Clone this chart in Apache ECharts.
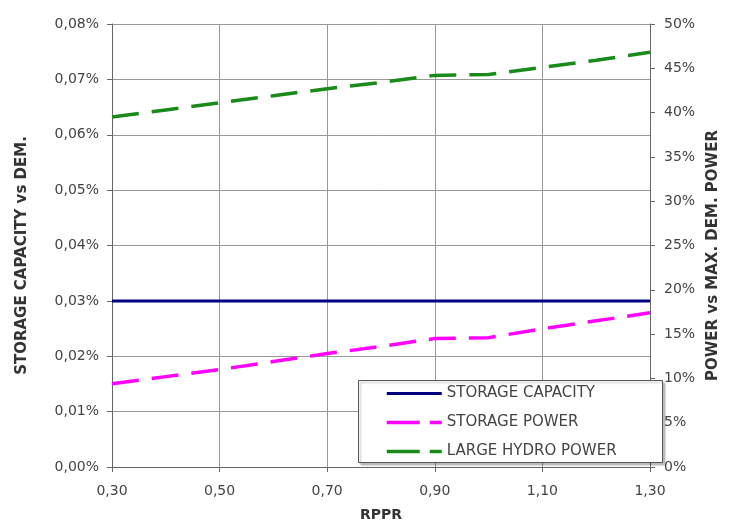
<!DOCTYPE html>
<html>
<head>
<meta charset="utf-8">
<script src="https://cdn.jsdelivr.net/npm/echarts@6/dist/echarts.min.js"></script>
<style>html,body{margin:0;padding:0;background:#fff;}#c{width:729px;height:527px;}</style>
</head>
<body>
<div id="c"></div>
<script>
var rppr = ['0,30','0,40','0,50','0,60','0,70','0,80','0,90','1,00','1,10','1,20','1,30'];
var storageCapacity = [0.03,0.03,0.03,0.03,0.03,0.03,0.03,0.03,0.03,0.03,0.03];
var storagePower = [9.4,10.2,11.0,11.9,12.8,13.6,14.5,14.6,15.6,16.5,17.4];
var largeHydroPower = [39.5,40.3,41.1,41.9,42.7,43.4,44.2,44.3,45.1,45.9,46.8];
var seriesNames = ['STORAGE CAPACITY','STORAGE POWER','LARGE HYDRO POWER'];
var seriesColors = ['#000080','#ff00ff','#1a8a1a'];

var FONT = 'DejaVu Sans';
var DASH = [27,13];
var chart = echarts.init(document.getElementById('c'), null, {renderer:'canvas'});
chart.setOption({
  backgroundColor:'#fff',
  animation:false,
  textStyle:{fontFamily:FONT},
  grid:{left:112,right:61,top:24,bottom:59,containLabel:false},
  xAxis:{
    type:'category', data:rppr, boundaryGap:false,
    name:'RPPR', nameLocation:'middle', nameGap:41,
    nameTextStyle:{fontFamily:FONT,fontWeight:'bold',fontSize:14,color:'#333'},
    axisLine:{lineStyle:{color:'#666',width:1}},
    axisTick:{show:true,interval:1,length:5,lineStyle:{color:'#666'}},
    axisLabel:{interval:1,margin:17,fontSize:14,color:'#444',fontFamily:FONT},
    splitLine:{show:true,interval:1,lineStyle:{color:'#999',width:1}}
  },
  yAxis:[{
    type:'value', min:0, max:0.08, interval:0.01, position:'left',
    name:'STORAGE CAPACITY vs DEM.', nameLocation:'middle', nameGap:82, nameRotate:90,
    nameTextStyle:{fontFamily:FONT,fontWeight:'bold',fontSize:15,color:'#333',padding:[0,20,0,0]},
    axisLine:{show:true,lineStyle:{color:'#666',width:1}},
    axisTick:{show:true,length:5,lineStyle:{color:'#666'}},
    axisLabel:{margin:13,fontSize:14,color:'#444',fontFamily:FONT,
      formatter:function(v){return v.toFixed(2).replace('.',',')+'%';}},
    splitLine:{show:true,lineStyle:{color:'#999',width:1}}
  },{
    type:'value', min:0, max:50, interval:5, position:'right',
    name:'POWER vs MAX. DEM. POWER', nameLocation:'middle', nameGap:54, nameRotate:90,
    nameTextStyle:{fontFamily:FONT,fontWeight:'bold',fontSize:15,color:'#333',padding:[0,20,0,0]},
    axisLine:{show:true,lineStyle:{color:'#666',width:1}},
    axisTick:{show:true,length:5,lineStyle:{color:'#666'}},
    axisLabel:{margin:14,fontSize:14,color:'#444',fontFamily:FONT,
      formatter:function(v){return v+'%';}},
    splitLine:{show:false}
  }],
  legend:{
    orient:'vertical', left:385, top:386, itemWidth:55, itemHeight:14, itemGap:14,
    padding:0, z:10,
    textStyle:{fontFamily:FONT,fontSize:15,color:'#444'},
    data:[
      {name:seriesNames[0], itemStyle:{color:'transparent',borderWidth:0,opacity:0}, lineStyle:{color:seriesColors[0],width:3,type:'solid'}},
      {name:seriesNames[1], itemStyle:{color:'transparent',borderWidth:0,opacity:0}, lineStyle:{color:seriesColors[1],width:3.5,type:[33,10]}},
      {name:seriesNames[2], itemStyle:{color:'transparent',borderWidth:0,opacity:0}, lineStyle:{color:seriesColors[2],width:3.5,type:[33,10]}}
    ]
  },
  graphic:[{
    type:'rect', z:5, left:358, top:380,
    shape:{width:304,height:82},
    style:{fill:'#fff',stroke:'#555',lineWidth:1,shadowColor:'rgba(0,0,0,0.25)',shadowOffsetX:2,shadowOffsetY:2,shadowBlur:2}
  }],
  series:[{
    name:seriesNames[0], type:'line', yAxisIndex:0, data:storageCapacity,
    showSymbol:false, symbol:'none', color:seriesColors[0],
    lineStyle:{color:seriesColors[0],width:3}
  },{
    name:seriesNames[1], type:'line', yAxisIndex:1, data:storagePower,
    showSymbol:false, symbol:'none', color:seriesColors[1],
    lineStyle:{color:seriesColors[1],width:3.5,type:DASH}
  },{
    name:seriesNames[2], type:'line', yAxisIndex:1, data:largeHydroPower,
    showSymbol:false, symbol:'none', color:seriesColors[2],
    lineStyle:{color:seriesColors[2],width:3.5,type:DASH}
  }]
});
</script>
</body>
</html>
